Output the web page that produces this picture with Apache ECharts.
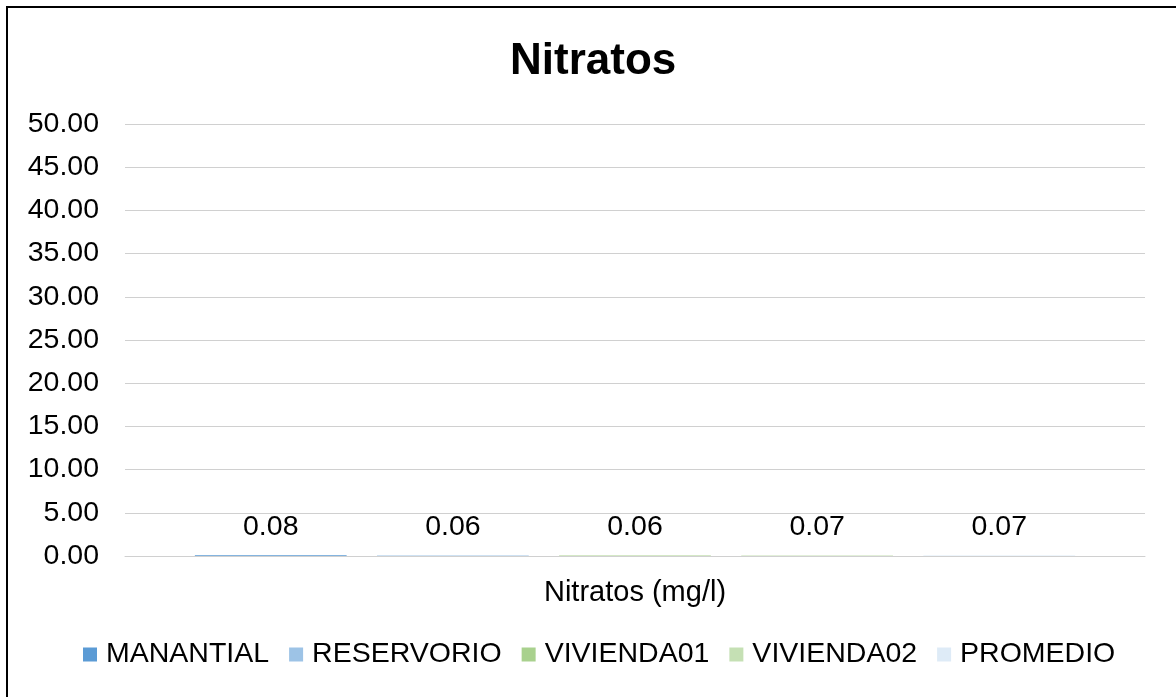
<!DOCTYPE html>
<html>
<head>
<meta charset="utf-8">
<script src="https://cdn.jsdelivr.net/npm/echarts@6/dist/echarts.min.js"></script>
<style>
html,body{margin:0;padding:0;background:#fff;overflow:hidden;}
#chart{width:1176px;height:697px;position:absolute;left:0;top:0;}
#frame{position:absolute;left:6px;top:6px;width:1300px;height:800px;border-left:2px solid #000;border-top:2px solid #000;pointer-events:none;}
</style>
</head>
<body>
<div id="chart"></div>
<div id="frame"></div>
<script>
const categories = ["Nitratos (mg/l)"];
const seriesNames = ["MANANTIAL", "RESERVORIO", "VIVIENDA01", "VIVIENDA02", "PROMEDIO"];
const seriesValues = [[0.08], [0.06], [0.06], [0.07], [0.07]];
const seriesColors = ["#5B9BD5", "#9DC3E6", "#A9D18E", "#C5E0B4", "#DEEBF7"];
const yTicks = { min: 0, max: 50, interval: 5 };

const font = "Liberation Sans, Arial, sans-serif";
const chart = echarts.init(document.getElementById('chart'), null, { renderer: 'canvas' });
chart.setOption({
  animation: false,
  backgroundColor: '#fff',
  title: {
    text: 'Nitratos',
    left: 505,
    top: 35,
    textStyle: { fontFamily: font, fontSize: 44, fontWeight: 'bold', color: '#000' }
  },
  legend: {
    data: seriesNames,
    left: 78,
    top: 635,
    icon: 'rect',
    itemWidth: 14,
    itemHeight: 14,
    itemGap: 20,
    textStyle: { fontFamily: font, fontSize: 28.5, color: '#000', padding: [0, 0, 0, 4] }
  },
  grid: { left: 125, right: 31, top: 124, bottom: 141, containLabel: false },
  xAxis: {
    type: 'category',
    data: categories,
    axisLine: { show: true, lineStyle: { color: '#d0d0d0', width: 1 } },
    axisTick: { show: false },
    axisLabel: { fontFamily: font, fontSize: 29, color: '#000', margin: 22 }
  },
  yAxis: {
    type: 'value',
    min: yTicks.min,
    max: yTicks.max,
    interval: yTicks.interval,
    axisLine: { show: false },
    axisTick: { show: false },
    splitLine: { lineStyle: { color: '#d0d0d0', width: 1 } },
    axisLabel: {
      fontFamily: font, fontSize: 28.5, color: '#000', margin: 26,
      formatter: v => v.toFixed(2)
    }
  },
  series: seriesNames.map((name, i) => ({
    name: name,
    type: 'bar',
    data: seriesValues[i],
    barGap: '20%',
    barCategoryGap: '13.7%',
    itemStyle: { color: seriesColors[i] },
    label: {
      show: true,
      position: 'top',
      distance: 14,
      fontFamily: font,
      fontSize: 28.5,
      color: '#000',
      formatter: p => p.value.toFixed(2)
    }
  }))
});
</script>
</body>
</html>
